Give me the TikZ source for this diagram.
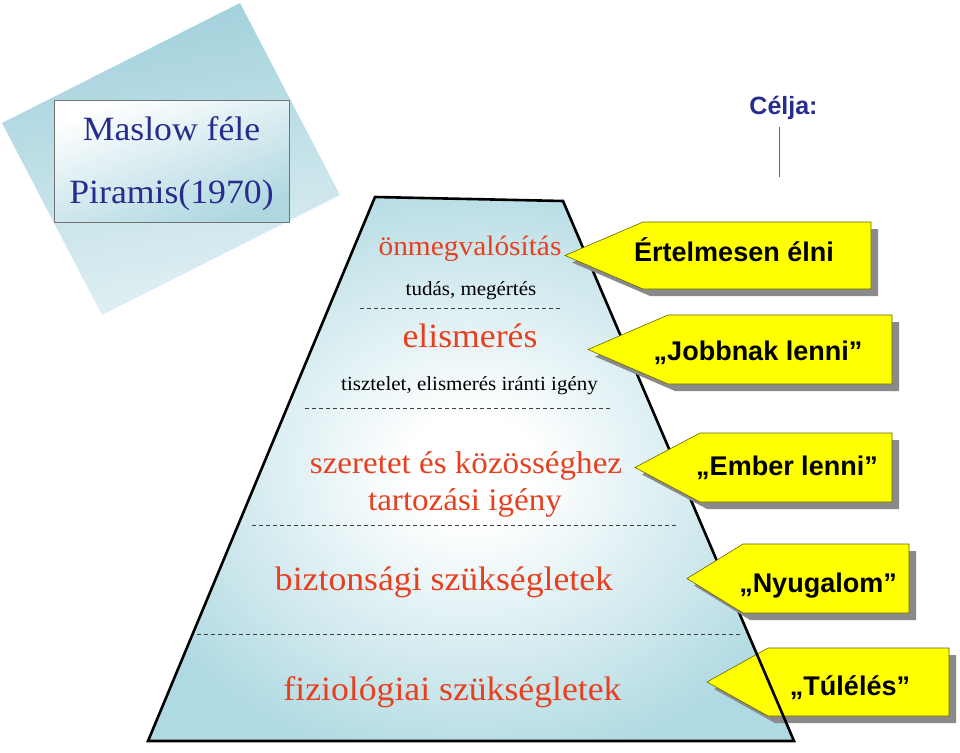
\documentclass[tikz,border=0pt]{standalone}
\usepackage{fontspec}
\setmainfont{Liberation Serif}
\newfontfamily\pyrfont[FakeStretch=1.05]{Liberation Serif}
\newfontfamily\tagfont{Liberation Sans}
\usepackage{tikz}
\usetikzlibrary{calc}
\definecolor{pyrblue}{RGB}{176,218,226}
\definecolor{bgblue}{RGB}{160,208,219}
\definecolor{titleblue}{RGB}{40,44,140}
\definecolor{needred}{RGB}{232,64,30}
\definecolor{tagyellow}{RGB}{255,255,0}
\definecolor{shadowgray}{RGB}{138,138,138}
\pgfdeclareradialshading{pyrglow}{\pgfpoint{0bp}{0bp}}{color(0bp)=(white); color(5bp)=(white); color(28bp)=(pyrblue); color(50bp)=(pyrblue)}

\tikzset{
  title/.style={text=titleblue, font=\pyrfont\fontsize{34}{37}\selectfont, anchor=base},
  aim/.style={text=titleblue, font=\tagfont\bfseries\fontsize{25}{28}\selectfont, anchor=base},
  need/.style={text=needred, font=\pyrfont\fontsize{34}{37}\selectfont, anchor=base},
  note/.style={font=\pyrfont\fontsize{20}{23}\selectfont, anchor=base},
  level/.style={draw=black!75, line width=0.8pt, dash pattern=on 4pt off 3pt},
  tagbox/.style={fill=tagyellow, draw=tagyellow!40!black, line width=0.6pt},
  tag/.style={font=\tagfont\bfseries\fontsize{27}{30}\selectfont, anchor=base},
}

\begin{document}
\begin{tikzpicture}[x=1pt, y=-1pt, line join=miter]
\useasboundingbox (0,0) rectangle (960,752);

% tilted card behind the title
\shade[top color=bgblue, middle color=bgblue!55, bottom color=bgblue!30, shading angle=10]
  (240,3) -- (340,195) -- (102,315) -- (2,123) -- cycle;
\shade[left color=white, right color=bgblue!85, shading angle=20, draw=black!55, line width=0.8pt]
  (54,100) rectangle (289,222);
\node[title] (title1) at (171.5,140) {Maslow féle};
\node[title] (title2) at (171.5,203) {Piramis(1970)};

% aim
\node[aim] (aim) at (783.5,114) {Célja:};
\coordinate (aimtop) at (779,127);
\coordinate (aimend) at (779,177);
\draw[black!60, line width=0.8pt] (aimtop) -- (aimend);

% pyramid
\coordinate (tl) at (375,197);
\coordinate (tr) at (563,201);
\coordinate (br) at (794,741);
\coordinate (bl) at (148,741);
\begin{scope}[shift={(6,5)}]
  \fill[shadowgray] (tl) -- (tr) -- (br) -- (bl) -- cycle;
\end{scope}
\shade[shading=pyrglow] (tl) -- (tr) -- (br) -- (bl) -- cycle;

\draw[level] (360,308) -- (560,308);
\draw[level] (305,408) -- (612,408);
\draw[level] (252,525) -- (677,525);
\draw[level] (197,634) -- (741,634);

\node[need, font=\pyrfont\fontsize{28}{31}\selectfont] (self) at (470,255) {önmegvalósítás};
\node[note] (selfnote) at (471,295) {tudás, megértés};
\node[need] (esteem) at (470,347) {elismerés};
\node[note] (esteemnote) at (469.5,390) {tisztelet, elismerés iránti igény};
\node[need, font=\pyrfont\fontsize{31.5}{34}\selectfont] (love) at (466,473) {szeretet és közösséghez};
\node[need, font=\pyrfont\fontsize{31.5}{34}\selectfont] (love2) at (465,510) {tartozási igény};
\node[need] (safety) at (444,590) {biztonsági szükségletek};
\node[need] (body) at (452.5,700) {fiziológiai szükségletek};

% lowest tag lies under the pyramid edge
\foreach \tx/\lx/\rx/\t/\b/\px/\py/\txt [count=\i from 5] in
  {707/768/949/648/716/850/695/{„Túlélés”}}{
  \begin{scope}[shift={(7,7)}]
    \fill[shadowgray] (\tx,{(\t+\b)/2}) -- (\lx,\t) -- (\rx,\t) -- (\rx,\b) -- (\lx,\b) -- cycle;
  \end{scope}
  \draw[tagbox] (\tx,{(\t+\b)/2}) -- (\lx,\t) -- (\rx,\t) -- (\rx,\b) -- (\lx,\b) -- cycle;
  \node[tag] (tag\i) at (\px,\py) {\txt};
}

\draw[line width=2.6pt] (tl) -- (tr) -- (br) -- (bl) -- cycle;

% tags
\foreach \tx/\lx/\rx/\t/\b/\px/\py/\txt [count=\i] in
  {565/643/871/222/289/734/261/{Értelmesen élni},
   588/668/892/315/384/758/360/{„Jobbnak lenni”},
   635/700/892/433/502/787/475/{„Ember lenni”},
   687/743/909/544/613/818/592/{„Nyugalom”}}{
  \begin{scope}[shift={(7,7)}]
    \fill[shadowgray] (\tx,{(\t+\b)/2}) -- (\lx,\t) -- (\rx,\t) -- (\rx,\b) -- (\lx,\b) -- cycle;
  \end{scope}
  \draw[tagbox] (\tx,{(\t+\b)/2}) -- (\lx,\t) -- (\rx,\t) -- (\rx,\b) -- (\lx,\b) -- cycle;
  \node[tag] (tag\i) at (\px,\py) {\txt};
}
\end{tikzpicture}
\end{document}
